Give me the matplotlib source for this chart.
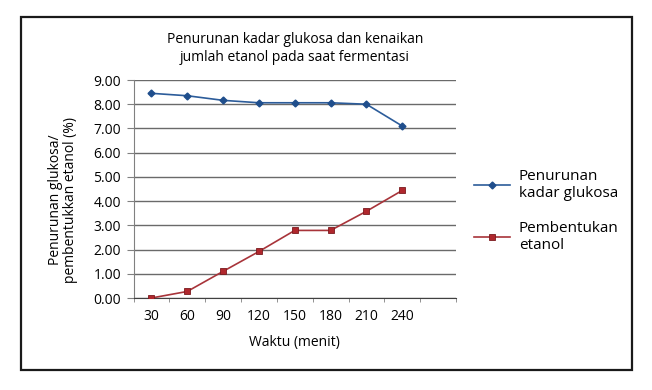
import matplotlib.pyplot as plt
from matplotlib.patches import Rectangle

plt.rcParams['font.family'] = ['Open Sans', 'DejaVu Sans']

waktu = ['30', '60', '90', '120', '150', '180', '210', '240']
glukosa = [8.45, 8.35, 8.16, 8.06, 8.06, 8.06, 8.00, 7.10]
etanol = [0.00, 0.27, 1.10, 1.92, 2.79, 2.79, 3.58, 4.44]
y_ticks = [0, 1, 2, 3, 4, 5, 6, 7, 8, 9]

W, H = 652, 390
fig = plt.figure(figsize=(W / 100, H / 100), dpi=100)
ax = fig.add_axes([133.5 / W, 1 - 298 / H, (456 - 133.5) / W, (298 - 80) / H])

x = list(range(len(waktu)))
ax.plot(x, glukosa, color='#2C5C9A', lw=1.2, marker='D', ms=3.5,
        mfc='#1F4E8C', mec='#1F4E8C', label='Penurunan\nkadar glukosa', zorder=3)
ax.plot(x, etanol, color='#A8343A', lw=1.2, marker='s', ms=5,
        mfc='#B0272D', mec='#7A1A1E', mew=0.6, label='Pembentukan\netanol', zorder=3)

ax.set_xlim(-0.5, 8.5)
ax.set_ylim(0, 9)
ax.set_yticks(y_ticks)
ax.set_yticklabels([f'{v:.2f}' for v in y_ticks], fontsize=10)
ax.set_xticks(x)
ax.set_xticklabels(waktu, fontsize=10)
ax.set_xticks([i - 0.5 for i in range(10)], minor=True)
ax.tick_params(axis='x', which='major', length=0, pad=8)
ax.tick_params(axis='x', which='minor', length=3, color='#808080')
ax.tick_params(axis='y', length=5, color='#808080', pad=4)

ax.grid(axis='y', color='#6a6a6a', lw=1)
ax.set_axisbelow(True)
for s in ['top', 'right']:
    ax.spines[s].set_visible(False)
ax.spines['left'].set_color('#808080')
ax.spines['bottom'].set_color('#404040')

ax.set_xlabel('Waktu (menit)', fontsize=10, labelpad=8)
ax.set_ylabel('Penurunan glukosa/\npembentukkan etanol (%)', fontsize=10,
              linespacing=1.0)
ax.yaxis.set_label_coords(-0.172, 0.45)
ax.set_title('Penurunan kadar glukosa dan kenaikan\njumlah etanol pada saat fermentasi',
             fontsize=10, pad=14, linespacing=1.25)

ax.legend(loc='center left', bbox_to_anchor=(1.012, 0.40), frameon=False,
          fontsize=11, handlelength=2.4, labelspacing=1.3, handletextpad=0.55)

fig.patches.append(Rectangle((21 / W, 1 - 370 / H), (632 - 21) / W, (370 - 17) / H,
                             transform=fig.transFigure, fill=False,
                             edgecolor='#1a1a1a', lw=1.6))

fig.savefig('out.png', dpi=100)
